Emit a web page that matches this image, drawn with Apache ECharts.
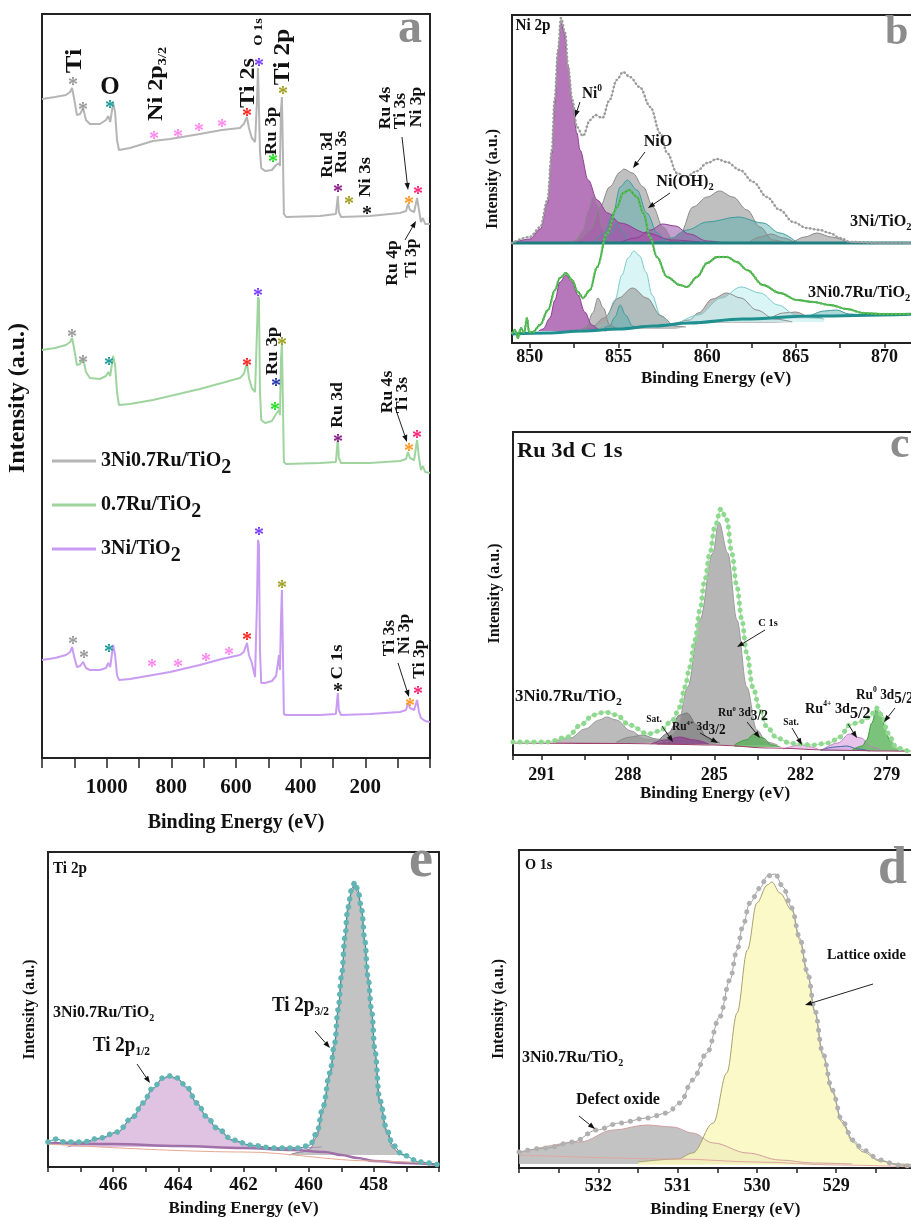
<!DOCTYPE html>
<html>
<head>
<meta charset="utf-8">
<title>XPS 3Ni0.7Ru/TiO2</title>
<script src="https://cdn.jsdelivr.net/npm/echarts@6/dist/echarts.min.js"></script>
<style>body{margin:0;background:#fff}</style>
</head>
<body>
<div id="main" style="width:911px;height:1217px;"></div>
<script type="text/javascript">
// ---------- (a) survey spectra ----------
var surveyEnergy = [1200,1160,1126,1113,1107,1101,1092,1082,1073,1064,1052,1021,1002,995,989,980,974,968,962,928,857,804,712,644,588,576,566,560,551,541,535,532,529,526,522,510,489,476,467,464,461,458,455,452,445,340,291,288,285,282,275,186,93,74,68,65,62,49,40,37,34,28,22,15,0];
var surveyNiRu = [659,661,663,666,670,660,643,644,650,638,634,634,638,642,636,655,646,618,608,610,617,619,624,628,630,634,641,630,620,616,658,690,688,608,590,587,588,593,595,592,648,661,608,544,541,542,544,553,562,546,541,542,545,547,554,556,548,546,560,561,548,536,540,534,534];
var surveyRu = [408,410,413,416,420,410,393,394,400,386,380,379,382,386,382,402,393,366,353,354,358,362,369,375,380,384,395,380,370,366,428,461,458,368,338,335,337,344,348,343,398,415,358,296,294,295,296,308,321,300,295,295,297,299,306,307,300,298,318,320,300,288,292,286,285];
var surveyNi = [98,100,103,106,111,102,91,92,96,90,88,88,90,95,91,113,103,83,78,79,83,86,93,99,103,106,115,103,95,81,158,218,213,108,75,75,77,82,103,88,138,168,108,44,43,43,44,55,65,48,43,44,46,48,55,56,50,48,58,60,46,40,42,37,36];

// ---------- (b) Ni 2p : 3Ni/TiO2 (upper, base 100) ----------
var b1Fit = [[849,100],[850,106],[850.6,116],[851,143],[851.25,193],[851.4,243],[851.6,293],[851.76,325],[852,310],[852.16,276],[852.4,243],[852.66,216],[853,207],[853.4,223],[853.7,228],[854.1,225],[854.5,243],[854.9,263],[855.26,271],[855.65,266],[856.2,256],[856.8,236],[857.35,210],[857.75,190],[858.3,170],[858.8,166],[859.43,172],[860,180],[860.56,184],[861.1,181],[861.85,173],[862.6,161],[863.37,146],[864.1,133],[864.85,121],[865.6,115],[866.36,113],[866.9,110],[867.5,105],[868.05,101],[869.7,100],[872,100]];
var b1Ni0 = [[849,100],[850,104],[850.6,114],[851,140],[851.25,190],[851.42,240],[851.6,292],[851.76,320],[851.95,310],[852.15,278],[852.4,240],[852.66,210],[852.83,193],[853.3,163],[853.8,143],[854.4,130],[855.1,120],[856.6,110],[858,103],[860,100]];
var b1Ni0Sat = [[855,100],[856,105],[856.8,113],[857.5,119],[858.2,117],[859,109],[860,102],[861,100]];
var b1NiOa = [[852.6,100],[853,112],[853.3,132],[853.57,146],[853.8,138],[854.1,115],[854.5,102],[855,100]];
var b1NiO = [[852.3,100],[852.8,104],[853.4,113],[853.96,136],[854.5,156],[855.1,171],[855.3,174],[855.8,170],[856.4,156],[856.95,136],[857.5,116],[858.1,103],[858.8,100]];
var b1NiOH = [[853.6,100],[854.2,110],[854.7,130],[855.1,156],[855.5,163],[856.05,153],[856.6,130],[857.2,110],[857.7,101],[858.2,100]];
var b1NiOHa = [[854.2,100],[854.6,110],[854.9,120],[855.2,112],[855.6,101],[856,100]];
var b1SatA = [[857.5,100],[858,104],[858.5,110],[859.2,136],[860,146],[860.7,152],[861.46,146],[862.25,133],[862.98,116],[863.7,103],[864.5,100]];
var b1SatB = [[857,100],[858,105],[858.86,113],[860,121],[861.74,126],[863.15,120],[864.1,110],[865.1,100]];
var b1SatC = [[862.3,100],[863,106],[863.6,109],[864.3,105],[865,100]];
var b1SatD = [[864.8,100],[865.5,106],[866.2,110],[867,106],[868,100]];
var b1Bg = [[849,100],[872,100]];

// ---------- (b) Ni 2p : 3Ni0.7Ru/TiO2 (lower) ----------
var b2Fit = [[849,10],[849.17,13],[849.34,5],[849.5,15],[849.68,10],[849.85,25],[849.96,11],[850.18,11],[850.58,18],[851.03,33],[851.42,53],[851.7,65],[852.04,70],[852.38,63],[852.72,51],[853,45],[853.4,53],[853.8,76],[854.36,110],[854.92,136],[855.26,150],[855.6,153],[856.05,146],[856.4,130],[856.78,106],[857.17,86],[857.74,66],[858.47,58],[858.86,56],[859.43,66],[860,80],[860.56,86],[861.12,86],[861.68,81],[862.25,73],[863.15,58],[864.1,50],[865.07,43],[865.97,41],[866.93,38],[867.88,34],[868.8,30],[869.74,29],[872,29]];
var b2Ni0 = [[850.5,12],[850.75,14],[851.14,25],[851.42,43],[851.7,61],[852.04,68],[852.38,61],[852.72,48],[853.1,31],[853.5,18],[853.96,13],[854.3,12]];
var b2NiOa = [[852.9,14],[853.2,16],[853.55,30],[853.85,45],[854.15,35],[854.5,18],[854.9,14]];
var b2NiO = [[853,14],[853.5,16],[854.2,25],[855,45],[855.8,55],[856.6,45],[857.4,27],[858.2,17],[858.8,16]];
var b2NiOH = [[853.8,16],[854.24,18],[854.8,43],[855.2,68],[855.54,85],[855.88,92],[856.2,87],[856.55,71],[856.9,48],[857.35,28],[857.9,19],[858.4,16]];
var b2NiOHa = [[854.2,15],[854.5,17],[854.8,26],[855.1,38],[855.4,28],[855.8,17],[856.1,15]];
var b2SatA = [[858.3,20],[859,23],[859.5,30],[860.3,44],[861.1,50],[861.9,45],[862.8,33],[863.8,24],[864.8,21]];
var b2SatB = [[858.5,21],[859.5,28],[860.8,45],[861.9,56],[863,50],[864,38],[865,28],[866,25],[866.6,24]];
var b2SatC = [[863.5,24],[864.3,30],[865,31],[865.8,26],[866.5,25]];
var b2SatD = [[865.8,27],[866.6,32],[867.3,33],[868,29],[868.8,28]];
var b2Bg = [[849,9],[851,10],[853,12],[855,14],[857,17],[859,20],[862,24],[866,27],[872,29]];

// ---------- (c) Ru 3d / C 1s ----------
var cFit = [[292,13],[290.8,13],[290.1,18],[289.65,30],[289.2,40],[288.8,43],[288.4,40],[287.95,30],[287.3,21],[286.9,24],[286.44,35],[286.2,48],[286.02,68],[285.85,88],[285.67,115],[285.5,145],[285.33,175],[285.15,202],[284.98,228],[284.77,246],[284.56,235],[284.39,202],[284.21,168],[284.04,135],[283.87,102],[283.66,68],[283.41,45],[283.17,28],[282.82,17],[282.37,12],[282.1,11],[281.6,10],[281,12],[280.63,18],[280.29,30],[279.94,33],[279.59,38],[279.35,47],[279.14,38],[278.97,22],[278.65,7],[278.2,4],[276,3]];
var cC1s = [[287,12],[286.6,16],[286.3,25],[285.92,68],[285.5,135],[285.05,202],[284.84,233],[284.53,202],[284.21,135],[283.87,68],[283.52,25],[283.17,13],[282.8,10]];
var cCO = [[290.6,13],[290,17],[289.5,26],[289,35],[288.75,38],[288.4,35],[287.9,24],[287.4,16],[286.8,13]];
var cCOa = [[288.4,13],[287.9,18],[287.5,20],[287,16],[286.6,13]];
var cCOb = [[287,12],[286.6,22],[286.2,40],[285.95,42],[285.6,30],[285.2,16],[284.8,12]];
var cRu4a = [[287.2,11],[286.7,15],[286.2,18],[285.7,15],[285.2,11]];
var cRu0a = [[284.3,10],[283.9,15],[283.6,21],[283.3,17],[283,10],[282.7,8]];
var cSat = [[282.6,6],[282,10],[281.4,6]];
var cRu4b = [[281.2,6],[280.7,12],[280.3,21],[279.9,17],[279.5,8],[279.2,5]];
var cBlue = [[281.3,5],[280.8,8],[280.4,9],[280,6],[279.6,4]];
var cRu0b = [[280.2,5],[279.85,9],[279.7,15],[279.52,32],[279.35,47],[279.17,42],[279.07,28],[278.9,15],[278.65,7],[278.3,4]];
var cBg = [[292,12],[288,11.5],[285,10],[283,7],[281,5],[279,4],[276,3]];

// ---------- (e) Ti 2p ----------
var eFit = [[468,25],[467.72,28],[467.5,25],[466.93,25],[466.4,29],[465.88,35],[465.39,50],[465.09,64],[464.78,79],[464.47,89],[464.29,91],[464.04,89],[463.74,80],[463.43,64],[463.12,50],[462.82,39],[462.33,27],[461.8,22],[461.1,19],[460.27,19],[459.96,22],[459.75,34],[459.56,60],[459.35,94],[459.2,124],[459.1,157],[458.98,194],[458.89,229],[458.8,259],[458.67,279],[458.58,285],[458.49,277],[458.37,257],[458.28,227],[458.18,190],[458.06,154],[457.97,117],[457.82,67],[457.6,37],[457.42,22],[457.11,12],[456.59,5],[456,2]];
var eTi12 = [[467.4,20],[466.9,24],[466.4,28],[465.88,34],[465.39,49],[465.09,63],[464.78,78],[464.47,88],[464.29,90],[464.04,88],[463.74,79],[463.43,63],[463.12,49],[462.82,38],[462.33,26],[461.8,21],[461.1,19],[460.3,19],[459.6,20]];
var eTi32 = [[460.6,12],[460.2,15],[459.96,18],[459.75,30],[459.56,57],[459.35,91],[459.2,121],[459.1,154],[458.98,191],[458.89,226],[458.8,256],[458.67,276],[458.58,282],[458.49,274],[458.37,254],[458.28,224],[458.18,187],[458.06,151],[457.97,114],[457.82,64],[457.6,34],[457.42,19],[457.2,13],[457,12]];
var eBg = [[468,24],[466,23],[464,21],[462,19],[460.5,17],[459.5,15],[459,12],[458.5,9],[458,6],[457,4],[456,2]];
var eBg2 = [[468,23],[462,15],[458,6],[456,3]];

// ---------- (d) O 1s ----------
var dFit = [[533,16],[532.65,20],[532.32,26],[532.02,38],[531.73,45],[531.39,50],[531.13,55],[530.97,65],[530.81,88],[530.63,115],[530.47,151],[530.34,188],[530.25,218],[530.18,241],[530.09,265],[529.96,280],[529.87,292],[529.77,294],[529.67,281],[529.56,260],[529.46,230],[529.36,195],[529.27,158],[529.17,115],[529.05,78],[528.93,48],[528.79,28],[528.66,18],[528.45,8],[528.23,3],[528,1]];
var dLattice = [[531.5,6],[531,9],[530.81,15],[530.55,45],[530.38,95],[530.25,155],[530.12,218],[530,265],[529.87,283],[529.81,286],[529.71,275],[529.56,258],[529.46,228],[529.36,193],[529.27,156],[529.17,113],[529.05,76],[528.93,46],[528.79,26],[528.66,16],[528.45,7],[528.23,4],[528,3]];
var dDefect = [[533,15],[532.23,26],[531.81,38],[531.39,43],[531.06,41],[530.81,35],[530.55,25],[530.12,15],[529.71,8],[529.29,5],[528.8,4]];
var dBg = [[533,13],[531,9],[530,6],[529,3],[528,1]];

var F = '"Liberation Serif","Times New Roman",serif';
var myChart = echarts.init(document.getElementById('main'));
var series = [];

function zip(xs, ys) { return xs.map(function (x, i) { return [x, ys[i]]; }); }
function comp(data, gi, origin, stroke, fill) {
  series.push({type: 'line', xAxisIndex: gi, yAxisIndex: gi, data: data, smooth: 0.35, smoothMonotone: 'x',
    symbol: 'none', silent: true, lineStyle: {color: stroke, width: 1}, areaStyle: {color: fill, origin: origin, opacity: 1}});
}
function plain(data, gi, color, w) {
  series.push({type: 'line', xAxisIndex: gi, yAxisIndex: gi, data: data, smooth: 0.35, smoothMonotone: 'x',
    symbol: 'none', silent: true, lineStyle: {color: color, width: w}});
}
function fit(data, gi, line, lw, dot, size, gap) {
  plain(data, gi, line, lw);
  series.push({type: 'line', xAxisIndex: gi, yAxisIndex: gi, data: data, smooth: 0.35, smoothMonotone: 'x',
    symbol: 'none', silent: true, lineStyle: {color: dot, width: size, type: [0.01, gap], cap: 'round'}});
}

// survey
series.push({type: 'line', name: '3Ni0.7Ru/TiO2', xAxisIndex: 0, yAxisIndex: 0, data: zip(surveyEnergy, surveyNiRu), symbol: 'none', color: '#b5b5b5', lineStyle: {width: 2}});
series.push({type: 'line', name: '0.7Ru/TiO2', xAxisIndex: 0, yAxisIndex: 0, data: zip(surveyEnergy, surveyRu), symbol: 'none', color: '#9fd49f', lineStyle: {width: 2}});
series.push({type: 'line', name: '3Ni/TiO2', xAxisIndex: 0, yAxisIndex: 0, data: zip(surveyEnergy, surveyNi), symbol: 'none', color: '#c99cf2', lineStyle: {width: 2}});

// b colours
var PUR = 'rgba(165,85,170,0.8)', PURL = '#8e3c94';
var GRY = 'rgba(150,150,150,0.6)', GRYL = '#8a8a8a';
var TEA = 'rgba(80,170,170,0.45)', TEAL = '#3d9c9c';
var CYA = 'rgba(205,242,242,0.75)', CYAL = '#7ccaca';
comp(b1SatD, 1, 100, GRYL, GRY); comp(b1SatC, 1, 100, GRYL, GRY);
comp(b1SatA, 1, 100, GRYL, GRY); comp(b1SatB, 1, 100, TEAL, TEA);
comp(b1NiO, 1, 100, GRYL, GRY); comp(b1NiOa, 1, 100, GRYL, GRY);
comp(b1NiOH, 1, 100, TEAL, TEA); comp(b1NiOHa, 1, 100, TEAL, TEA);
comp(b1Ni0Sat, 1, 100, PURL, 'rgba(150,80,170,0.55)');
comp(b1Ni0, 1, 100, PURL, PUR);
plain(b1Bg, 1, '#1f7f80', 3);
comp(b2SatD, 1, 27, TEAL, TEA); comp(b2SatC, 1, 24, GRYL, GRY);
comp(b2SatA, 1, 20, GRYL, GRY); comp(b2SatB, 1, 21, CYAL, CYA);
comp(b2NiOH, 1, 16, CYAL, CYA); comp(b2NiO, 1, 14, GRYL, GRY);
comp(b2NiOa, 1, 14, GRYL, GRY); comp(b2NiOHa, 1, 15, TEAL, TEA);
comp(b2Ni0, 1, 12, PURL, PUR);
plain(b2Bg, 1, '#1f8f8f', 3);
fit(b1Fit, 1, '#b8b8b8', 1, '#9a9a9a', 2.6, 4);
fit(b2Fit, 1, '#3fa83f', 1.8, '#5cbf5c', 2.6, 4);

// c
comp(cCO, 2, 12, '#9a9a9a', 'rgba(175,175,175,0.85)');
comp(cCOa, 2, 12, '#8a8a8a', 'rgba(150,150,150,0.7)');
comp(cC1s, 2, 10, '#9a9a9a', 'rgba(178,178,178,0.95)');
comp(cCOb, 2, 11, '#777', 'rgba(130,130,130,0.75)');
comp(cRu4a, 2, 11, '#8b3a8b', 'rgba(140,60,140,0.7)');
comp(cRu0a, 2, 8, '#3f9f3f', 'rgba(90,175,90,0.8)');
comp(cSat, 2, 6, '#d08ad0', 'rgba(230,185,230,0.8)');
comp(cBlue, 2, 4, '#4466aa', 'rgba(70,110,190,0.6)');
comp(cRu4b, 2, 5, '#c080c8', 'rgba(228,185,230,0.85)');
comp(cRu0b, 2, 4, '#3c9c3c', 'rgba(100,185,100,0.85)');
plain(cBg, 2, '#a0406a', 1.2);
fit(cFit, 2, '#b9e6b9', 1.5, '#8fd88f', 5, 7);

// e
comp(eTi12, 3, 20, '#b48ab8', 'rgba(222,192,226,0.95)');
comp(eTi32, 3, 12, '#8a7a90', 'rgba(192,192,192,0.95)');
plain(eBg, 3, '#a070a8', 2.5);
plain(eBg2, 3, '#e8a890', 1);
fit(eFit, 3, '#2f8f8f', 1, '#63b5b5', 5.5, 8);

// d
comp(dDefect, 4, 4, '#d0a0a0', 'rgba(185,185,185,0.85)');
comp(dLattice, 4, 3, '#a8a070', 'rgba(250,248,190,0.85)');
plain(dBg, 4, '#e0a8a0', 1);
fit(dFit, 4, '#a0a0a0', 1, '#b0b0b0', 5, 9);

// ---------- annotations ----------
var g = [];
function richSet(size, sub, sup) {
  var base = {fontWeight: 'bold', fontFamily: F, fill: '#111', color: '#111'};
  return {
    m: Object.assign({fontSize: size}, base),
    s: Object.assign({fontSize: sub, padding: [Math.round(size * 0.6), 0, 0, 0]}, base),
    p: Object.assign({fontSize: sup, padding: [0, 0, Math.round(size * 0.7), 0]}, base)
  };
}
function T(x, y, text, size, o) {
  o = o || {};
  var al = o.align || 'center';
  g.push({type: 'text', x: x, y: y, z: 100, silent: true, rotation: o.rot ? Math.PI / 2 : 0,
    scaleX: o.sx || (o.rot ? 1.1 : 0.95),
    style: {text: text, fill: o.color || '#111', font: 'bold ' + size + 'px ' + F,
      align: al, textAlign: al, verticalAlign: 'middle', textVerticalAlign: 'middle',
      rich: richSet(size, o.sub || Math.round(size * 0.62), o.sup || Math.round(size * 0.55))}});
}
function S(x, y, c) { T(x, y + 5, '*', 20, {color: c, sx: 1}); }
function A(x1, y1, x2, y2) {
  var ang = Math.atan2(y2 - y1, x2 - x1), L = 7, W = 2.6;
  var bx = x2 - L * Math.cos(ang), by = y2 - L * Math.sin(ang);
  var px = -Math.sin(ang) * W, py = Math.cos(ang) * W;
  g.push({type: 'line', z: 100, silent: true, shape: {x1: x1, y1: y1, x2: bx, y2: by}, style: {stroke: '#222', lineWidth: 1}});
  g.push({type: 'polygon', z: 100, silent: true, shape: {points: [[x2, y2], [bx + px, by + py], [bx - px, by - py]]}, style: {fill: '#111'}});
}
var LET = '#8c8c8c';
var GR = '#999', TL = '#1a9a9a', PK = '#ff88ee', RD = '#ff2020', VI = '#7a3cff', OL = '#a0a020', GN = '#22dd22', MG = '#8b1a8b', OR = '#ff9922', HP = '#ff2277';

// panel a, top spectrum
T(410, 30, 'a', 48, {color: LET, sx: 1});
T(75, 61, 'Ti', 24, {rot: 1}); T(110, 88, 'O', 25, {sx: 1});
T(156, 84, '{m|Ni 2p}{s|3/2}', 22, {rot: 1, sub: 13});
T(248, 83, 'Ti 2s', 22, {rot: 1}); T(259, 32, 'O 1s', 13, {rot: 1}); T(283, 57, 'Ti 2p', 23, {rot: 1});
T(272, 131, 'Ru 3p', 17, {rot: 1}); T(328, 155, 'Ru 3d', 16, {rot: 1}); T(342, 152, 'Ru 3s', 16, {rot: 1});
T(366, 177, 'Ni 3s', 17, {rot: 1});
T(386, 108, 'Ru 4s', 16, {rot: 1}); T(401, 111, 'Ti 3s', 16, {rot: 1}); T(417, 107, 'Ni 3p', 16, {rot: 1});
A(402, 137, 408, 190);
T(393, 263, 'Ru 4p', 16, {rot: 1}); T(412, 258, 'Ti 3p', 16, {rot: 1});
A(405, 240, 416, 221);
S(73, 81, GR); S(83, 106, GR); S(110, 104, TL); S(154, 135, PK); S(178, 133, PK); S(199, 127, PK); S(222, 123, PK);
S(247, 112, RD); S(259, 62, VI); S(283, 90, OL); S(273, 158, GN); S(338, 188, MG); S(349, 200, OL); S(367, 210, '#111');
S(409, 200, OR); S(418, 190, HP);
// middle spectrum
S(72, 333, GR); S(83, 359, GR); S(109, 361, TL); S(247, 362, RD); S(258, 292, VI); S(282, 341, OL); S(276, 382, '#2233aa');
S(275, 406, GN); S(338, 438, MG); S(409, 447, OR); S(417, 434, HP);
T(273, 351, 'Ru 3p', 17, {rot: 1}); T(338, 405, 'Ru 3d', 16, {rot: 1});
T(388, 392, 'Ru 4s', 16, {rot: 1}); T(403, 395, 'Ti 3s', 16, {rot: 1});
A(395, 407, 407, 442);
// bottom spectrum
S(73, 640, GR); S(84, 654, GR); S(109, 648, TL); S(152, 663, PK); S(178, 663, PK); S(206, 657, PK); S(229, 651, PK);
S(247, 636, RD); S(259, 531, VI); S(282, 584, OL); S(338, 687, '#111'); S(410, 702, OR); S(418, 690, HP);
T(338, 662, 'C 1s', 17, {rot: 1}); T(390, 638, 'Ti 3s', 16, {rot: 1}); T(405, 634, 'Ni 3p', 16, {rot: 1}); T(420, 659, 'Ti 3p', 16, {rot: 1});
A(398, 663, 409, 697);

// panel b
T(533, 26, 'Ni 2p', 16); T(885, 33, 'b', 42, {color: LET, align: 'left', sx: 1});
T(582, 94, '{m|Ni}{p|0}', 16, {align: 'left', sup: 10}); A(580, 102, 575, 117);
T(658, 142, 'NiO', 17); A(645, 152, 633, 168);
T(685, 182, '{m|Ni(OH)}{s|2}', 17, {sub: 11}); A(670, 193, 648, 208);
T(850, 222, '{m|3Ni/TiO}{s|2}', 17, {align: 'left', sub: 11});
T(808, 293, '{m|3Ni0.7Ru/TiO}{s|2}', 17, {align: 'left', sub: 11});

// panel c
T(517, 451, 'Ru 3d C 1s', 22, {align: 'left', sx: 1.02}); T(890, 446, 'c', 44, {color: LET, align: 'left', sx: 1});
T(515, 697, '{m|3Ni0.7Ru/TiO}{s|2}', 16, {align: 'left', sub: 11, sx: 1.05});
T(768, 623, 'C 1s', 11); A(765, 630, 737, 647);
T(654, 719, 'Sat.', 10); A(662, 726, 673, 742);
T(672, 727, '{m|Ru}{p|4+}{m| 3d}{s|3/2}', 12, {align: 'left', sub: 14, sup: 7}); A(700, 733, 718, 743);
T(718, 713, '{m|Ru}{p|0}{m| 3d}{s|3/2}', 12, {align: 'left', sub: 14, sup: 7}); A(747, 722, 760, 738);
T(791, 722, 'Sat.', 10); A(792, 728, 802, 745);
T(805, 709, '{m|Ru}{p|4+}{m| 3d}{s|5/2}', 15, {align: 'left', sub: 17, sup: 8}); A(848, 724, 857, 738);
T(856, 695, '{m|Ru}{p|0}{m| 3d}{s|5/2}', 14, {align: 'left', sub: 16, sup: 8}); A(895, 708, 884, 722);

// panel e
T(53, 869, 'Ti 2p', 16, {align: 'left'}); T(421, 862, 'e', 54, {color: LET, sx: 1});
T(53, 1013, '{m|3Ni0.7Ru/TiO}{s|2}', 16, {align: 'left', sub: 10, sx: 1});
T(93, 1046, '{m|Ti 2p}{s|1/2}', 20, {align: 'left', sub: 12}); A(137, 1064, 150, 1083);
T(272, 1006, '{m|Ti 2p}{s|3/2}', 20, {align: 'left', sub: 12}); A(315, 1031, 330, 1048);

// panel d
T(525, 865, 'O 1s', 15, {align: 'left'}); T(878, 870, 'd', 52, {color: LET, align: 'left', sx: 1});
T(827, 955, 'Lattice oxide', 15, {align: 'left'}); A(873, 984, 805, 1005);
T(522, 1058, '{m|3Ni0.7Ru/TiO}{s|2}', 16, {align: 'left', sub: 10, sx: 1});
T(576, 1100, 'Defect oxide', 16, {align: 'left', sx: 1}); A(579, 1116, 595, 1129);

// ---------- axes ----------
var nameStyle = function (s, pad) { return {fontSize: s, fontWeight: 'bold', fontFamily: F, color: '#111', padding: pad || 0}; };
function xAx(gi, min, max, inv, o) {
  var ax = {type: 'value', gridIndex: gi, min: min, max: max, inverse: inv,
    axisLine: {show: false}, splitLine: {show: false},
    axisTick: {show: true, length: 5, lineStyle: {color: '#222', width: 1.5}},
    axisLabel: {margin: o.margin, fontSize: o.fs, fontWeight: 'bold', fontFamily: F, color: '#111', formatter: o.fmt},
    name: 'Binding Energy (eV)', nameLocation: 'middle', nameGap: o.gap, nameTextStyle: nameStyle(o.ns, o.pad)};
  if (o.interval) ax.interval = o.interval;
  if (o.minor) ax.minorTick = {show: true, splitNumber: 2, length: 5, lineStyle: {color: '#222', width: 1.5}};
  if (o.tickLen) ax.axisTick.length = o.tickLen;
  if (o.labels) { ax.axisLabel.customValues = o.labels; ax.axisTick.customValues = o.ticks; }
  return ax;
}
function yAx(gi, max, gap, ns, pad) {
  return {type: 'value', gridIndex: gi, min: 0, max: max, axisLine: {show: false}, axisTick: {show: false},
    axisLabel: {show: false}, splitLine: {show: false},
    name: 'Intensity (a.u.)', nameLocation: 'middle', nameGap: gap, nameTextStyle: nameStyle(ns, pad)};
}
var frame = {show: true, borderColor: '#222', borderWidth: 2, backgroundColor: 'transparent', outerBoundsMode: 'none', containLabel: false};

var option = {
  animation: false,
  backgroundColor: '#fff',
  grid: [
    Object.assign({left: 42, top: 14, width: 388, height: 744}, frame),
    Object.assign({left: 512, top: 15, width: 408, height: 328}, frame),
    Object.assign({left: 513, top: 432, width: 460, height: 323}, frame),
    Object.assign({left: 48, top: 852, width: 391, height: 315}, frame),
    Object.assign({left: 519, top: 850, width: 396.5, height: 318}, frame)
  ],
  xAxis: [
    xAx(0, 0, 1200, true, {interval: 100, margin: 19, fs: 21, gap: 55, ns: 20, tickLen: 10,
      fmt: function (v) { return (v % 200 === 0 && v > 0 && v < 1200) ? v : ''; }}),
    xAx(1, 849, 872, false, {margin: 5, fs: 18, gap: 27, ns: 17, labels: [850, 855, 860, 865, 870],
      ticks: [850, 852.5, 855, 857.5, 860, 862.5, 865, 867.5, 870]}),
    xAx(2, 276, 292, true, {interval: 3, minor: true, margin: 11, fs: 18, gap: 30, ns: 17, pad: [0, 56, 0, 0],
      fmt: function (v) { return (v >= 279 && v <= 291) ? v : ''; }}),
    xAx(3, 456, 468, true, {interval: 2, minor: true, margin: 9, fs: 19, gap: 33, ns: 17,
      fmt: function (v) { return (v > 456 && v < 468) ? v : ''; }}),
    xAx(4, 528, 533, true, {interval: 1, minor: true, margin: 9, fs: 18, gap: 33, ns: 17, pad: [0, 0, 0, 16],
      fmt: function (v) { return (v > 528 && v < 533) ? v : ''; }})
  ],
  yAxis: [yAx(0, 744, 12, 24, [0, 24, 0, 0]), yAx(1, 328, 11, 16), yAx(2, 323, 10, 16), yAx(3, 315, 10, 16), yAx(4, 318, 12, 16)],
  legend: {
    data: ['3Ni0.7Ru/TiO2', '0.7Ru/TiO2', '3Ni/TiO2'],
    left: 52, top: 451, orient: 'vertical', padding: 0, icon: 'rect', itemWidth: 44, itemHeight: 3, itemGap: 17,
    selectedMode: false,
    formatter: function (n) { return '{m|' + n.slice(0, -1) + '}{s|2}'; },
    textStyle: {rich: {
      m: {fontSize: 20, fontWeight: 'bold', fontFamily: F, color: '#111'},
      s: {fontSize: 20, fontWeight: 'bold', fontFamily: F, color: '#111', padding: [14, 0, 0, 0]}
    }}
  },
  graphic: {elements: g},
  series: series
};
myChart.setOption(option);
</script>
</body>
</html>
